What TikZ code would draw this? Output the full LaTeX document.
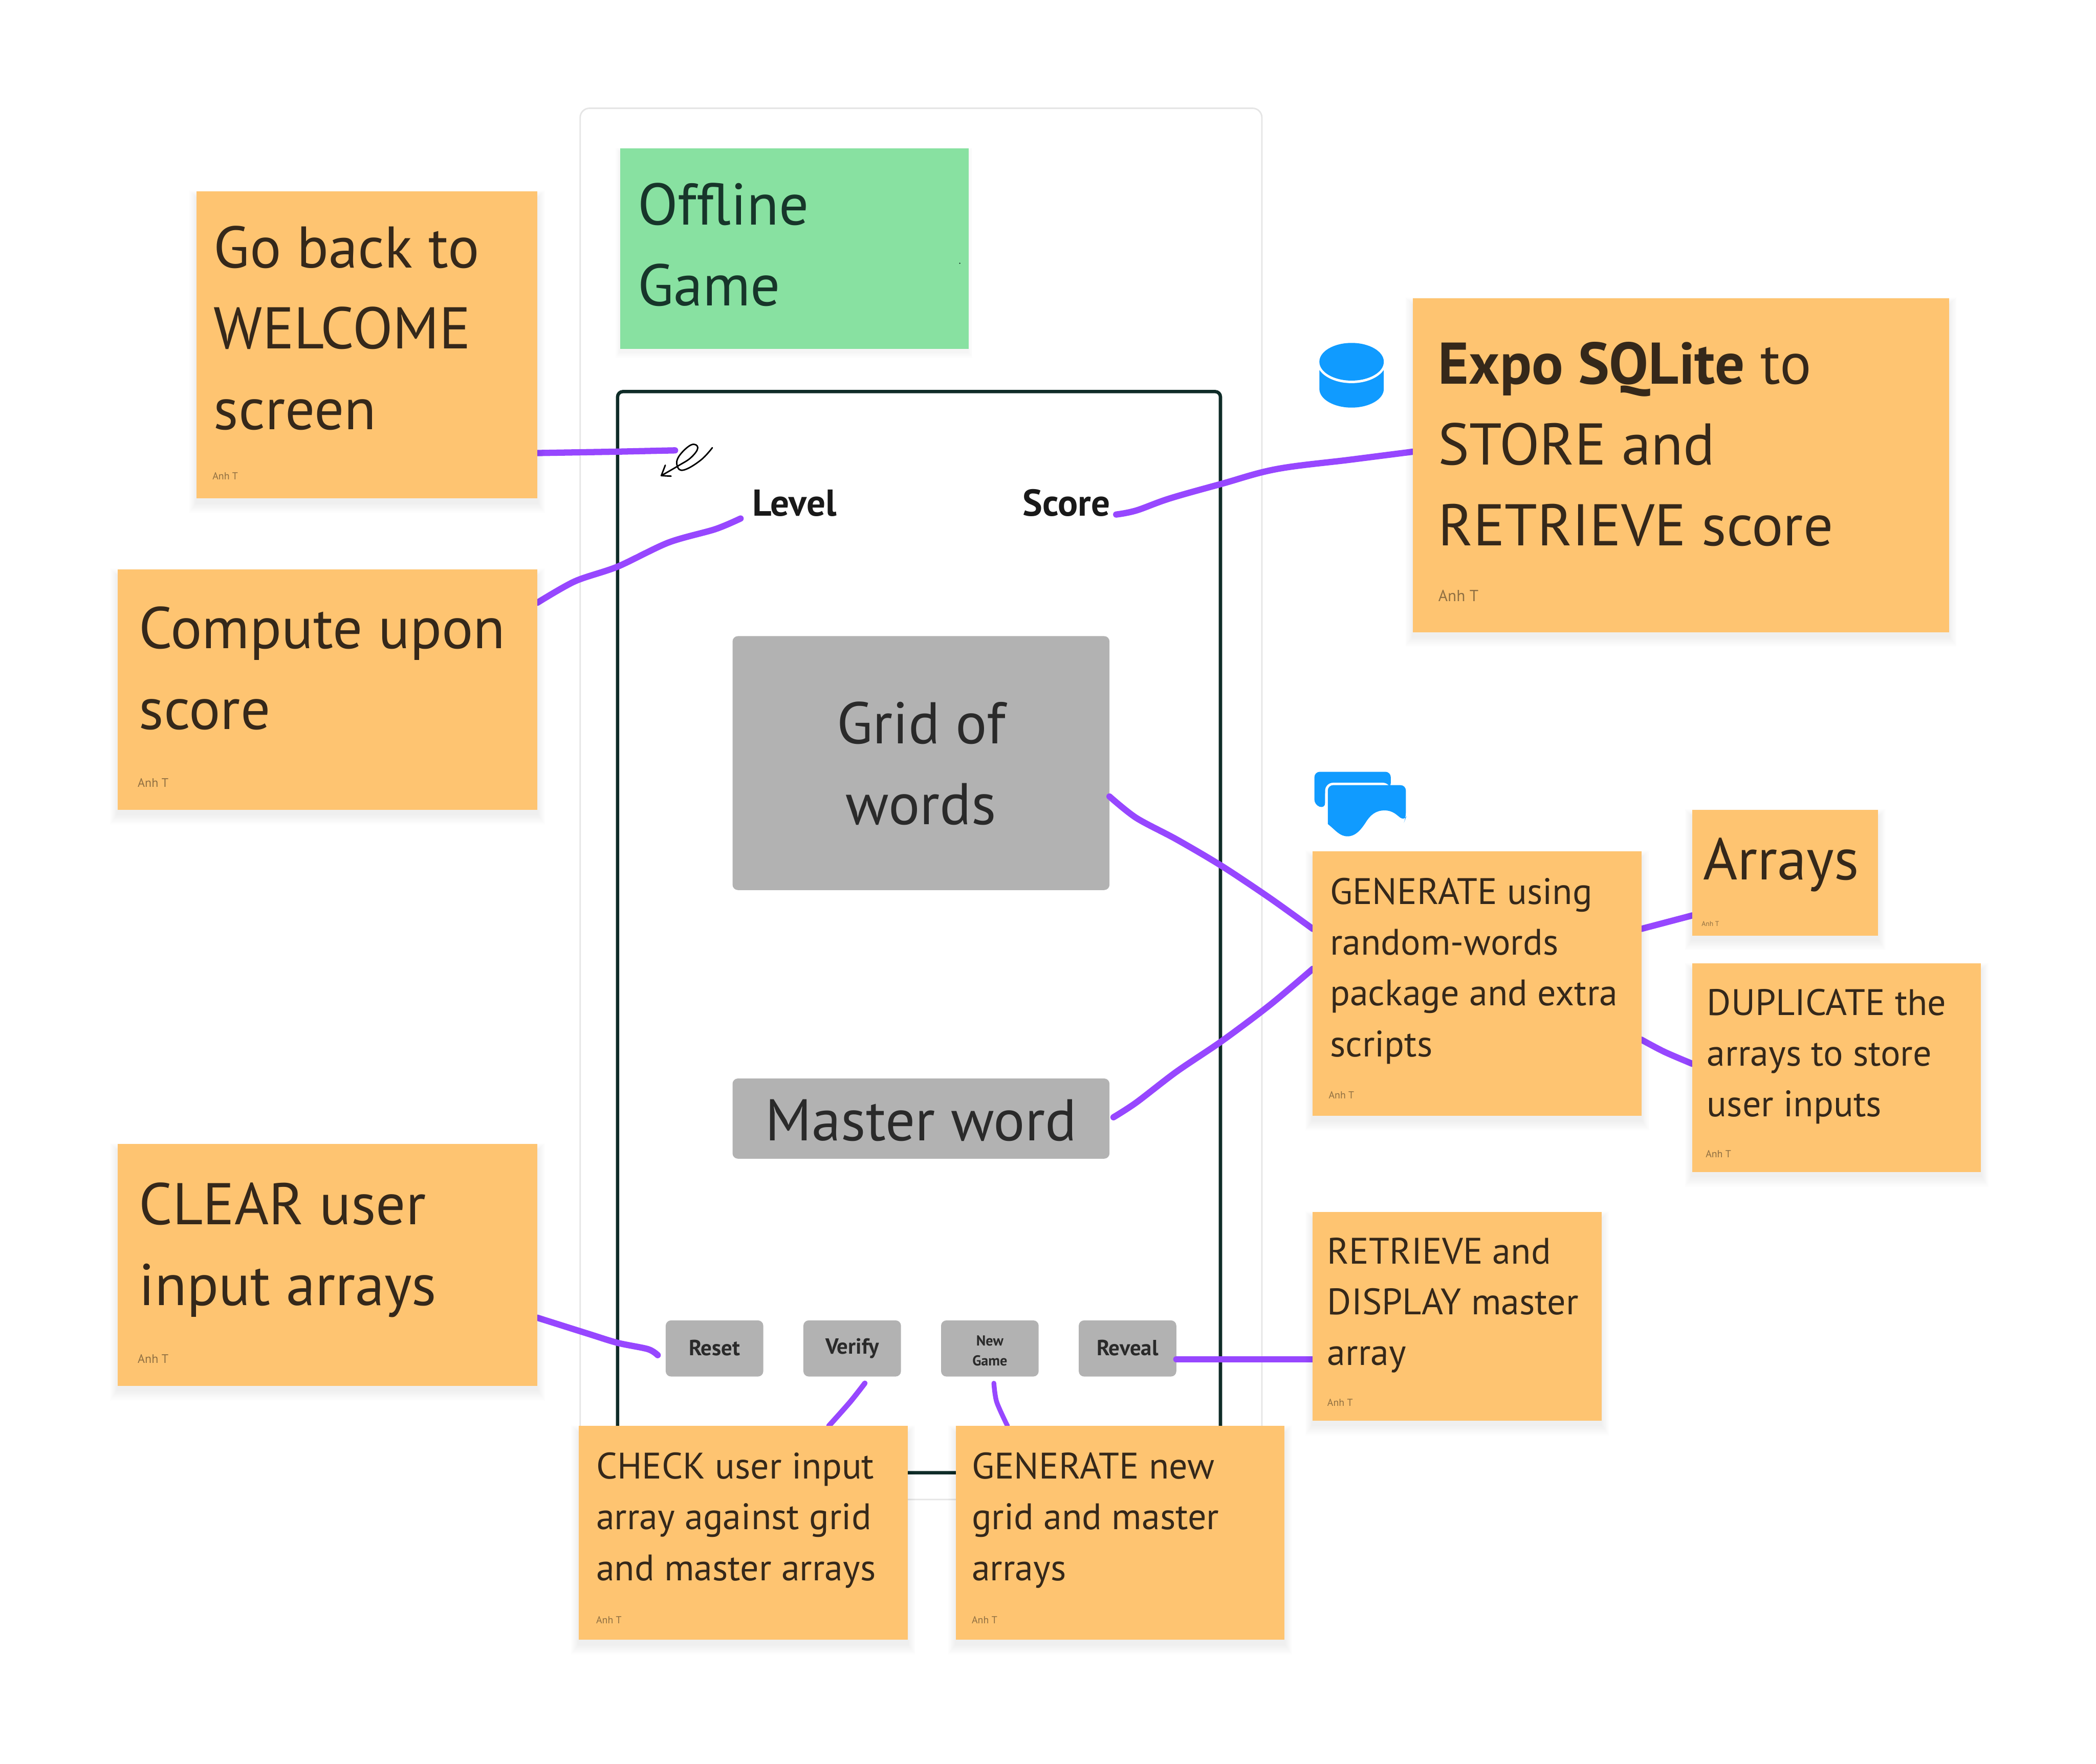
\documentclass[tikz,border=0pt]{standalone}
\usepackage{fontspec}
\setmainfont{PT Sans}
\usetikzlibrary{fit,calc,backgrounds}
\pgfdeclarelayer{low}
\pgfdeclarelayer{mid}
\pgfsetlayers{low,mid,main}
\definecolor{orangeS}{HTML}{FEC471}
\definecolor{brownT}{HTML}{35281A}
\definecolor{authorT}{HTML}{8F6F42}
\definecolor{greenS}{HTML}{88E1A1}
\definecolor{greenT}{HTML}{17352A}
\definecolor{greyB}{HTML}{B2B2B2}
\definecolor{darkF}{HTML}{0F2C28}
\definecolor{purpleL}{HTML}{9747FF}
\definecolor{blueI}{HTML}{109BFF}
\definecolor{grayT}{HTML}{2A2A2A}
\tikzset{
  conn/.style={draw=purpleL,line width=2.35pt,line cap=round,line join=round},
  stickybox/.style={fill=orangeS,inner sep=0pt,outer sep=0pt},
  bigtext/.style={anchor=north west,inner sep=0pt,outer sep=0pt,align=left,text=brownT,font=\fontsize{22}{30.25}\selectfont},
  midtext/.style={anchor=north west,inner sep=0pt,outer sep=0pt,align=left,text=brownT,font=\fontsize{13.8}{19}\selectfont},
  author/.style={anchor=base west,inner sep=0pt,outer sep=0pt,text=authorT},
  greybox/.style={fill=greyB,rounded corners=2pt,inner sep=0pt,outer sep=0pt},
  btn/.style={fill=greyB,rounded corners=2pt,inner sep=0pt,outer sep=0pt,minimum width=36.5pt,minimum height=21pt,align=center,text=grayT,font=\bfseries\fontsize{8.2}{8.2}\selectfont},
  blabel/.style={inner sep=0pt,outer sep=0pt,anchor=base west,text=black!90,font=\bfseries\fontsize{14}{14}\selectfont}
}
\newcommand{\stickynote}[5]{%
  \foreach \s in {1,...,8}{\fill[black,opacity=.006] (#2-\s*0.7,#3+5-\s*0.7) rectangle (#4+\s*0.7,#5+3+\s);}
  \node[stickybox,fit={(#2,#3) (#4,#5)}] (#1) {};}
\begin{document}
\begin{tikzpicture}[x=0.5pt,y=-0.5pt]
\useasboundingbox (0,0) rectangle (1568,1319.6);

\begin{pgfonlayer}{low}
  \fill[white] (0,0) rectangle (1568,1319.6);
  \node[draw=black!10,line width=0.55pt,rounded corners=3.5pt,inner sep=0pt,fit={(434,81) (944,1122)}] (outer) {};
  \node[draw=darkF,line width=1.25pt,rounded corners=2pt,inner sep=0pt,fit={(462,293) (913,1102)}] (phone) {};
  % green title
  \foreach \s in {1,...,5}{\fill[black,opacity=.006] (464-\s*0.7,111+3-\s*0.7) rectangle (724+\s*0.7,261+2+\s);}
  \node[fill=greenS,inner sep=0pt,fit={(464,111) (724.5,261)}] (title) {};
  \fill[greenT] (718,197) circle (0.5);
  \node[bigtext,text=greenT] (titleT) at (477,126) {\strut Offline\\Game};
  % grey boxes
  \node[greybox,fit={(548,476) (830,666)}] (grid) {};
  \node[bigtext,anchor=north,align=center,text=grayT] (gridT) at (689,514) {\strut Grid of\\words};
  \node[greybox,fit={(548,807) (830,867)}] (master) {};
  \node[bigtext,anchor=base,text=grayT] (masterT) at (689,853.5) {Master word};
  % buttons
  \node[btn] (reset) at (534.5,1009) {\raisebox{0.4pt}{Reset}};
  \node[btn] (verify) at (637.5,1009) {Verify};
  \node[btn,font=\bfseries\fontsize{5.4}{7.5}\selectfont] (newgame) at (740.5,1009) {\rule{0pt}{5.5pt}New\\Game};
  \node[btn] (reveal) at (843.5,1009) {\raisebox{0.4pt}{Reveal}};
  % labels
  \node[blabel] (level) at (563,386) {Level};
  \node[blabel] (score) at (765,386) {Score};
\end{pgfonlayer}

% sticky notes
\stickynote{goback}{147}{143}{402}{373}
\node[bigtext] (gobackT) at (160,158.2) {\strut Go back to\\WELCOME\\screen};
\node[author,font=\fontsize{3.8}{4}\selectfont] (gobackA) at (159,359) {Anh T};

\stickynote{compute}{88}{426}{402}{606}
\node[bigtext] (computeT) at (104,443) {\strut Compute upon\\score};
\node[author,font=\fontsize{4.6}{5}\selectfont] (computeA) at (103,589) {Anh T};

\stickynote{clear}{88}{856}{402}{1037}
\node[bigtext] (clearT) at (104,874) {\strut CLEAR user\\input arrays};
\node[author,font=\fontsize{4.6}{5}\selectfont] (clearA) at (103,1020) {Anh T};

\stickynote{expo}{1057}{223}{1458}{473}
\node[bigtext] (expoT) at (1076,245) {\strut\textbf{Expo SQLite} to\\STORE and\\RETRIEVE score};
\node[author,font=\fontsize{6}{7}\selectfont] (expoA) at (1076,450) {Anh T};

\stickynote{genusing}{982}{637}{1228}{835}
\node[midtext] (genusingT) at (995,650) {\strut GENERATE using\\random-words\\package and extra\\scripts};
\node[author,font=\fontsize{3.8}{4}\selectfont] (genusingA) at (994,822) {Anh T};

\stickynote{arrays}{1266}{606}{1405}{700}
\node[bigtext] (arraysT) at (1274,616) {\strut Arrays};
\node[author,font=\fontsize{2.6}{3}\selectfont] (arraysA) at (1273,693) {Anh T};

\stickynote{dup}{1266}{721}{1482}{877}
\node[midtext] (dupT) at (1277,733) {\strut DUPLICATE the\\arrays to store\\user inputs};
\node[author,font=\fontsize{3.8}{4}\selectfont] (dupA) at (1276,866) {Anh T};

\stickynote{retrieve}{982}{907}{1198}{1063}
\node[midtext] (retrieveT) at (993,919) {\strut RETRIEVE and\\DISPLAY master\\array};
\node[author,font=\fontsize{3.8}{4}\selectfont] (retrieveA) at (993,1052) {Anh T};

\stickynote{check}{433}{1067}{679}{1227}
\node[midtext] (checkT) at (446,1080) {\strut CHECK user input\\array against grid\\and master arrays};
\node[author,font=\fontsize{3.8}{4}\selectfont] (checkA) at (446,1215) {Anh T};

\stickynote{gennew}{715}{1067}{961}{1227}
\node[midtext] (gennewT) at (727,1080) {\strut GENERATE new\\grid and master\\arrays};
\node[author,font=\fontsize{3.8}{4}\selectfont] (gennewA) at (727,1215) {Anh T};

% free ends of connectors and hand-written mark
\coordinate (markEnd) at (505,337);
\coordinate (levelEnd) at (554,388);
\coordinate (scoreEnd) at (835,385);
\coordinate (gridEnd) at (830,596);
\coordinate (masterEnd) at (833,836);
\coordinate (resetEnd) at (492,1014);
\coordinate (verifyEnd) at (647,1035);
\coordinate (newEnd) at (743.5,1035);
\coordinate (revealEnd) at (880,1017);

\begin{pgfonlayer}{mid}
  \draw[conn] (goback.east |- 0,339) -- (460,338) -- (markEnd);
  \draw[conn] plot[smooth,tension=.5] coordinates {(compute.east |- 0,451) (430,435) (462,424) (500,406) (535,396) (levelEnd)};
  \draw[conn] plot[smooth,tension=.6] coordinates {(scoreEnd) (850,382) (875,373) (914,362) (955,351) (1010,344) (expo.west |- 0,338)};
  \draw[conn] plot[smooth,tension=.5] coordinates {(gridEnd) (850,612) (880,628) (914,648) (950,672) (genusing.west |- 0,695)};
  \draw[conn] plot[smooth,tension=.5] coordinates {(masterEnd) (850,825) (880,802) (914,779) (950,752) (genusing.west |- 0,725)};
  \draw[conn] (genusing.east |- 0,695) -- (arrays.west |- 0,685);
  \draw[conn] plot[smooth,tension=.5] coordinates {(genusing.east |- 0,778) (1245,787) (dup.west |- 0,796)};
  \draw[conn] (revealEnd) -- (retrieve.west |- 0,1017);
  \draw[conn] plot[smooth,tension=.5] coordinates {(clear.east |- 0,986) (440,998) (462,1004.8) (484.7,1009.5) (resetEnd)};
  \draw[conn,line width=2pt] plot[smooth,tension=.5] coordinates {(verifyEnd) (636,1049) (check.north -| 620,0)};
  \draw[conn,line width=1.8pt] plot[smooth,tension=.5] coordinates {(newEnd) (745.6,1049) (gennew.north -| 753.7,0)};
  % hand-written mark with arrow
  \draw[black,line width=0.55pt,line cap=round,line join=round]
    plot[smooth,tension=.7] coordinates {(532.9,335) (524.1,344.4) (511.5,351.7) (506.6,348.6) (508,341.3) (517,332.9) (522,335) (517,342.3) (507.3,348.6) (494.7,355.9)}
    (497.7,348.1) -- (494.7,355.9) -- (502,356.3);
\end{pgfonlayer}

% icons
\fill[blueI] (987,277) -- (987,291) arc[start angle=180,end angle=0,x radius=24.1,y radius=14] -- (1035.2,277) -- cycle;
\fill[white] (1011.1,270.7) ellipse[x radius=26,y radius=16];
\fill[blueI] (1011.1,270.7) ellipse[x radius=24.1,y radius=14.1];

\fill[blueI,rounded corners=2pt] (983.3,602.4) -- (983.3,577.5) -- (1040.4,577.5) -- (1040.4,590) -- (991.3,590) -- (991.3,604.9) -- cycle;
\fill[white] (991.3,604.9) -- (991.3,591) [rounded corners=3pt] -- (991.3,585.7) -- (1040.4,585.7) [sharp corners] -- (1040.4,592) -- (1000,600) -- cycle;
\fill[blueI,rounded corners=2pt] (993.3,616.6) -- (993.3,587.5) -- (1051.7,587.5) -- (1051.7,612) -- (1050.8,614.2) [sharp corners] .. controls (1045,610) and (1042,606.4) .. (1035.8,606.4) .. controls (1029,606.4) and (1025,610) .. (1021.6,615.5) .. controls (1018,621) and (1014,625.8) .. (1008.1,625.8) .. controls (1002,625.8) and (999,621) .. cycle;
\end{tikzpicture}
\end{document}
